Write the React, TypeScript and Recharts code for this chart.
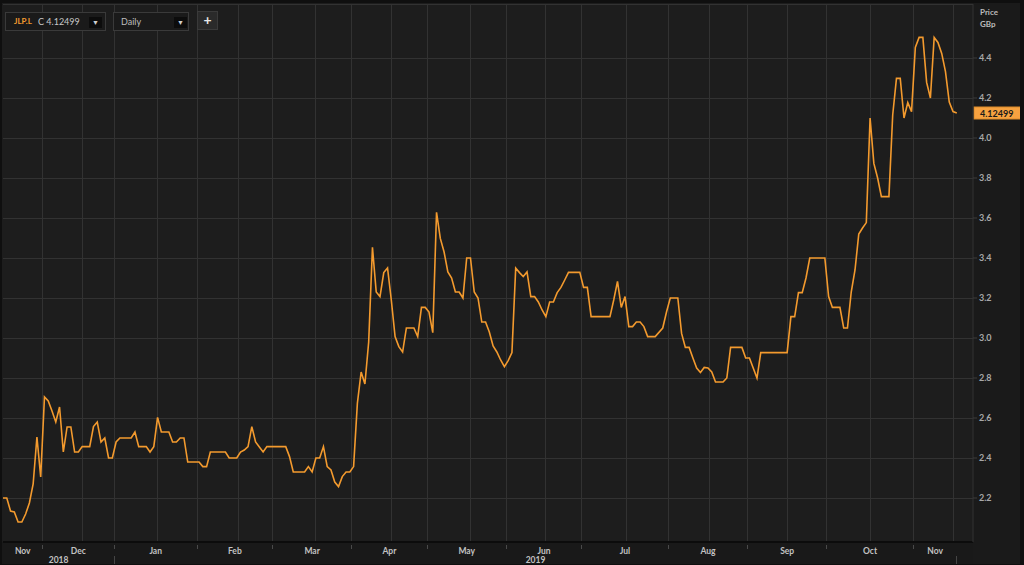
import React from "react";
import {
  CartesianGrid,
  Line,
  LineChart,
  ReferenceLine,
  XAxis,
  YAxis,
} from "recharts";

// trading-session index, 0 = 19 Nov 2018
const days = [
  0, 1, 2, 3, 4, 5, 6, 7, 8, 9, 10, 11, 12, 13, 14, 15, 16, 17, 18, 19, 20, 21, 23,
  24, 25, 26, 27, 28, 29, 30, 31, 34, 35, 36, 38, 39, 40, 41, 42, 44, 45, 46, 47, 48,
  49, 52, 53, 54, 55, 59, 60, 62, 63, 64, 65, 66, 67, 68, 69, 70, 75, 76, 77, 80, 81,
  82, 83, 84, 85, 86, 87, 88, 89, 90, 91, 92, 93, 94, 95, 96, 97, 98, 99, 100, 101,
  102, 103, 104, 105, 106, 107, 109, 110, 111, 112, 113, 114, 115, 116, 117, 118, 119,
  120, 121, 122, 123, 124, 125, 126, 127, 128, 129, 130, 131, 132, 133, 134, 135, 136,
  137, 138, 139, 140, 141, 142, 143, 144, 145, 146, 147, 148, 149, 150, 153, 154, 155,
  156, 161, 162, 163, 164, 165, 166, 167, 168, 169, 170, 171, 173, 175, 176, 177, 179,
  180, 181, 182, 183, 184, 185, 186, 187, 188, 189, 191, 192, 193, 196, 197, 198, 200,
  201, 208, 209, 210, 211, 212, 213, 214, 218, 219, 220, 222, 223, 224, 225, 226, 227,
  228, 229, 230, 231, 232, 233, 235, 236, 237, 238, 239, 240, 241, 242, 243, 244, 245,
  246, 247, 248, 249, 250, 251, 252, 253,
];

// close, GBp
const closes = [
  2.2, 2.2, 2.135, 2.13, 2.08, 2.08, 2.12, 2.175, 2.27, 2.505, 2.305, 2.705, 2.685, 2.635,
  2.58, 2.655, 2.43, 2.555, 2.555, 2.43, 2.43, 2.457, 2.457, 2.557, 2.58, 2.48, 2.5, 2.4,
  2.4, 2.48, 2.5, 2.5, 2.53, 2.457, 2.457, 2.43, 2.457, 2.603, 2.53, 2.53, 2.48, 2.48, 2.5,
  2.5, 2.38, 2.38, 2.357, 2.357, 2.43, 2.43, 2.4, 2.4, 2.43, 2.44, 2.457, 2.557, 2.48,
  2.455, 2.43, 2.457, 2.457, 2.407, 2.33, 2.33, 2.357, 2.33, 2.4, 2.4, 2.457, 2.357, 2.34,
  2.28, 2.257, 2.307, 2.33, 2.33, 2.357, 2.673, 2.83, 2.77, 2.98, 3.453, 3.23, 3.207,
  3.327, 3.35, 3.19, 3.007, 2.957, 2.93, 3.05, 3.05, 3.007, 3.153, 3.153, 3.13, 3.027,
  3.628, 3.498, 3.43, 3.33, 3.3, 3.23, 3.23, 3.2, 3.4, 3.4, 3.23, 3.2, 3.08, 3.08, 3.03,
  2.96, 2.93, 2.89, 2.857, 2.887, 2.927, 3.35, 3.327, 3.307, 3.33, 3.207, 3.207, 3.18,
  3.14, 3.107, 3.18, 3.18, 3.227, 3.253, 3.29, 3.328, 3.328, 3.253, 3.253, 3.107, 3.107,
  3.19, 3.283, 3.153, 3.207, 3.057, 3.057, 3.08, 3.08, 3.057, 3.007, 3.007, 3.05, 3.13,
  3.2, 3.2, 3.023, 2.953, 2.953, 2.9, 2.85, 2.828, 2.853, 2.85, 2.83, 2.78, 2.78, 2.8,
  2.953, 2.953, 2.9, 2.9, 2.8, 2.927, 2.927, 3.107, 3.107, 3.227, 3.227, 3.3, 3.4, 3.4,
  3.207, 3.153, 3.153, 3.05, 3.05, 3.23, 3.34, 3.52, 3.55, 3.577, 4.1, 3.873, 3.8, 3.707,
  3.707, 4.115, 4.298, 4.298, 4.1, 4.177, 4.132, 4.453, 4.503, 4.503, 4.278, 4.2, 4.503,
  4.478, 4.423, 4.332, 4.18, 4.132, 4.125,
];

// session position of each month change (Dec 2018 .. Nov 2019)
const monthStarts = [10.5, 29.5, 51.5, 71.5, 92.5, 112.5, 133.5, 153.5, 176.5, 197.5, 218.5, 241.5];
// extra vertical grid lines around mid-month
const midMonthLines = [21, 41, 62.5, 83, 103, 124, 144, 165.5, 187.5, 208, 230, 252];
const monthNames = ["Nov", "Dec", "Jan", "Feb", "Mar", "Apr", "May", "Jun", "Jul", "Aug", "Sep", "Oct", "Nov"];
const yearNames = ["2018", "2019"];
const yearBreaks = [29.5, 253];
const priceTicks = [2.2, 2.4, 2.6, 2.8, 3.0, 3.2, 3.4, 3.6, 3.8, 4.0, 4.2, 4.4];
const lastClose = 4.12499;

const FONT = "Lato, 'Open Sans', sans-serif";
const ORANGE = "#f39a2e";
const LABEL = "#c2c2c2";
const GRID = "#323232";

const data = days.map((d, i) => ({ day: d, close: closes[i] }));
const lastDay = days[days.length - 1];
const edges = [0, ...monthStarts, lastDay];
const monthMids = monthNames.map((_, i) => (edges[i] + edges[i + 1]) / 2);
const yearEdges = [0, ...yearBreaks];
const yearMids = yearNames.map((_, i) => (yearEdges[i] + yearEdges[i + 1]) / 2);
const gridDays = [...monthStarts, ...midMonthLines].sort((a, b) => a - b);
// one bottom axis carries month names, month marks, years and year breaks
const axisTicks = Array.from(new Set([...monthMids, ...monthStarts, ...yearMids, ...yearBreaks])).sort(
  (a, b) => a - b
);

const xDomain = [0, 257.3];
const yDomain = [1.98, 4.67];

function DateTick({ x, y, payload }: any) {
  const v = payload.value;
  const m = monthMids.indexOf(v);
  const yr = yearMids.indexOf(v);
  return (
    <g>
      {monthStarts.includes(v) && (
        <line x1={x} x2={x} y1={y + 1} y2={y + 5} stroke="#4a4a4a" shapeRendering="crispEdges" />
      )}
      {yearBreaks.includes(v) && (
        <line x1={x} x2={x} y1={y + 12} y2={y + 20} stroke="#454545" shapeRendering="crispEdges" />
      )}
      {m >= 0 && (
        <text x={x} y={y + 9.5} textAnchor="middle" fill={LABEL} fontSize={8.5} fontWeight={700} fontFamily={FONT}>
          {monthNames[m]}
        </text>
      )}
      {yr >= 0 && (
        <text x={x} y={y + 19} textAnchor="middle" fill={LABEL} fontSize={8.5} fontWeight={700} fontFamily={FONT}>
          {yearNames[yr]}
        </text>
      )}
    </g>
  );
}

function PriceTick({ x, y, payload }: any) {
  return (
    <text x={x} y={y + 3} fill="#a8a8a8" fontSize={9} fontWeight={700} fontFamily={FONT}>
      {Number(payload.value).toFixed(1)}
    </text>
  );
}

function LastTag({ viewBox }: any) {
  const left = viewBox.x + viewBox.width + 1;
  return (
    <g>
      <rect x={left} y={viewBox.y - 6} width={48} height={12} fill="#f7a240" stroke="#d98a2a" />
      <text x={left + 6} y={viewBox.y + 3.5} fill="#1a1a1a" fontSize={9} fontWeight={700} fontFamily={FONT}>
        {lastClose}
      </text>
    </g>
  );
}

function Controls() {
  const box: React.CSSProperties = {
    position: "absolute",
    top: 12,
    height: 19,
    boxSizing: "border-box",
    border: "1px solid #3a3a3a",
    background: "#1a1a1a",
    fontFamily: FONT,
    fontSize: 9,
    lineHeight: "17px",
  };
  const drop: React.CSSProperties = {
    position: "absolute",
    top: 4,
    width: 13,
    height: 11,
    background: "#0c0c0c",
    color: "#d0d0d0",
    fontSize: 7,
    lineHeight: "11px",
    textAlign: "center",
  };
  return (
    <>
      <div style={{ ...box, left: 5, width: 101 }}>
        <span style={{ position: "absolute", left: 8, color: ORANGE, fontWeight: 700, fontSize: 8 }}>JLP.L</span>
        <span style={{ position: "absolute", left: 32, color: "#c8c8c8" }}>C 4.12499</span>
        <div style={{ ...drop, left: 83 }}>▼</div>
      </div>
      <div style={{ ...box, left: 113, width: 76 }}>
        <span style={{ position: "absolute", left: 7, color: "#bdbdbd" }}>Daily</span>
        <div style={{ ...drop, left: 60 }}>▼</div>
      </div>
      <div
        style={{
          position: "absolute",
          left: 197,
          top: 11,
          width: 21,
          height: 19,
          boxSizing: "border-box",
          border: "1px solid #3a3a3a",
          background: "#2a2a2a",
          color: "#e8e8e8",
          fontFamily: FONT,
          fontWeight: 700,
          fontSize: 14,
          lineHeight: "16px",
          textAlign: "center",
        }}
      >
        +
      </div>
    </>
  );
}

export default function App() {
  return (
    <div
      style={{
        position: "absolute",
        left: 0,
        top: 0,
        width: 1024,
        height: 565,
        background: "#1d1d1d",
        overflow: "hidden",
      }}
    >
      {/* darker bands behind the axes */}
      <div style={{ position: "absolute", left: 0, top: 542, width: 1024, height: 23, background: "#191919" }} />
      <div style={{ position: "absolute", left: 973, top: 0, width: 51, height: 565, background: "#1a1a1a" }} />
      <LineChart width={1024} height={565} data={data} margin={{ top: 4, right: 0, left: 3, bottom: 0 }}>
        <XAxis
          dataKey="day"
          type="number"
          domain={xDomain}
          allowDataOverflow
          ticks={axisTicks}
          interval={0}
          tick={<DateTick />}
          tickLine={false}
          tickSize={0}
          axisLine={{ stroke: "#0c0c0c", strokeWidth: 2 }}
          height={23}
        />
        <YAxis
          orientation="right"
          type="number"
          domain={yDomain}
          allowDataOverflow
          ticks={priceTicks}
          interval={0}
          width={51}
          tickSize={4}
          tickMargin={2}
          tickLine={{ stroke: "#3a3a3a" }}
          axisLine={{ stroke: "#333" }}
          tick={<PriceTick />}
        />
        <CartesianGrid stroke={GRID} vertical={false} shapeRendering="crispEdges" />
        {gridDays.map((d) => (
          <ReferenceLine
            key={`g${d}`}
            x={d}
            stroke={GRID}
            strokeWidth={1}
            shapeRendering="crispEdges"
          />
        ))}
        <Line
          type="linear"
          dataKey="close"
          stroke={ORANGE}
          strokeWidth={1.6}
          dot={false}
          isAnimationActive={false}
        />
        <ReferenceLine y={lastClose} stroke="none" label={<LastTag />} />
      </LineChart>
      <Controls />
      <div style={{ position: "absolute", left: 980, top: 6, color: "#bcbcbc", fontFamily: FONT, fontWeight: 700, fontSize: 8, lineHeight: "12px" }}>
        Price
        <br />
        GBp
      </div>
      <div style={{ position: "absolute", left: 0, top: 0, width: 1024, height: 3, background: "#0f0f0f" }} />
      <div style={{ position: "absolute", left: 0, top: 0, width: 2, height: 565, background: "#0f0f0f" }} />
      <div style={{ position: "absolute", left: 1020, top: 0, width: 4, height: 565, background: "#0f0f0f" }} />
      <div style={{ position: "absolute", left: 0, top: 564, width: 1024, height: 1, background: "#0f0f0f" }} />
    </div>
  );
}
